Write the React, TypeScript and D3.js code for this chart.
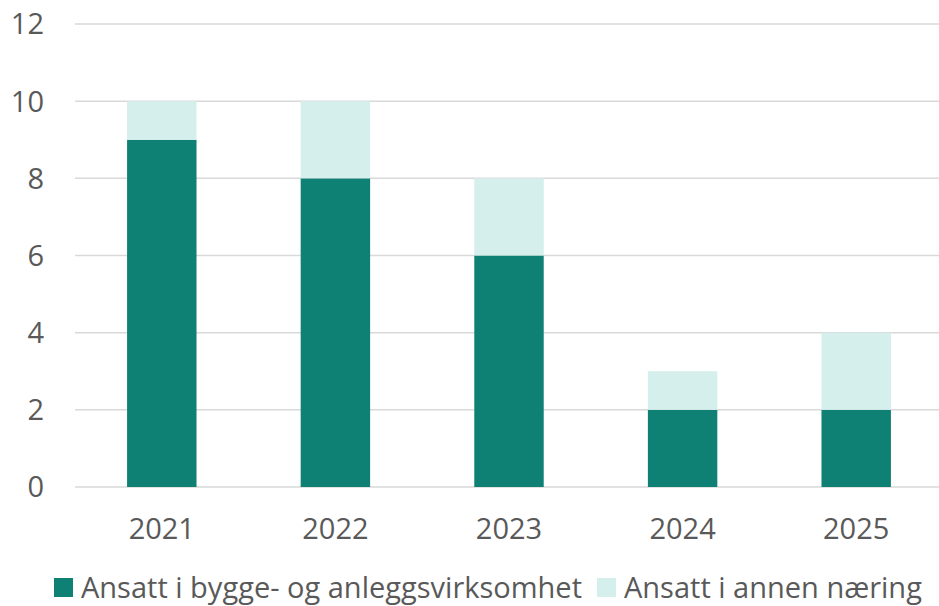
import React from "react";
import * as d3 from "d3";

const years = ["2021", "2022", "2023", "2024", "2025"];
const bygg = [9, 8, 6, 2, 2];
const annen = [1, 2, 2, 1, 2];
const seriesNames = ["Ansatt i bygge- og anleggsvirksomhet", "Ansatt i annen næring"];
const seriesColors = ["#0E8174", "#D5EFEC"];
const yTicks = [0, 2, 4, 6, 8, 10, 12];

const W = 939;
const H = 606;
const FONT = "'Open Sans', sans-serif";

const App = () => {
  const x = d3.scaleBand().domain(years).range([75, 943]).padding(0);
  const y = d3.scaleLinear().domain([0, 12]).range([487, 24]);
  const barW = x.bandwidth() * 0.4;

  const rows = years.map((yr, i) => ({ year: yr, bygg: bygg[i], annen: annen[i] }));
  const stacked = d3.stack<any>().keys(["bygg", "annen"])(rows);

  return (
    <svg width={W} height={H} style={{ position: "absolute", left: 0, top: 0 }}>
      <rect width={W} height={H} fill="#fff" />
      {yTicks.map((t) => (
        <g key={t}>
          <line x1={75} x2={939} y1={y(t)} y2={y(t)} stroke="#D9D9D9" strokeWidth={1.5} />
          <text x={44} y={y(t)} dy="0.36em" textAnchor="end" fontSize={29} fill="#595959" fontFamily={FONT}>
            {t}
          </text>
        </g>
      ))}
      {stacked.map((layer, li) => (
        <g key={li} fill={seriesColors[li]}>
          {layer.map((d: any, i) => (
            <rect
              key={i}
              x={(x(years[i]) as number) + (x.bandwidth() - barW) / 2}
              y={y(d[1])}
              width={barW}
              height={y(d[0]) - y(d[1])}
            />
          ))}
        </g>
      ))}
      {years.map((yr) => (
        <text
          key={yr}
          x={(x(yr) as number) + x.bandwidth() / 2}
          y={528.5}
          dy="0.36em"
          textAnchor="middle"
          fontSize={29}
          fill="#595959"
          fontFamily={FONT}
        >
          {yr}
        </text>
      ))}
      {/* legend, nudged up a little so descenders stay inside the frame */}
      <g>
        <rect x={54} y={578} width={19} height={19} fill={seriesColors[0]} />
        <text x={81} y={598} fontSize={29} fill="#595959" fontFamily={FONT}>
          {seriesNames[0]}
        </text>
        <rect x={597} y={578} width={19} height={19} fill={seriesColors[1]} />
        <text x={624} y={598} fontSize={29} fill="#595959" fontFamily={FONT}>
          {seriesNames[1]}
        </text>
      </g>
    </svg>
  );
};

export default App;
